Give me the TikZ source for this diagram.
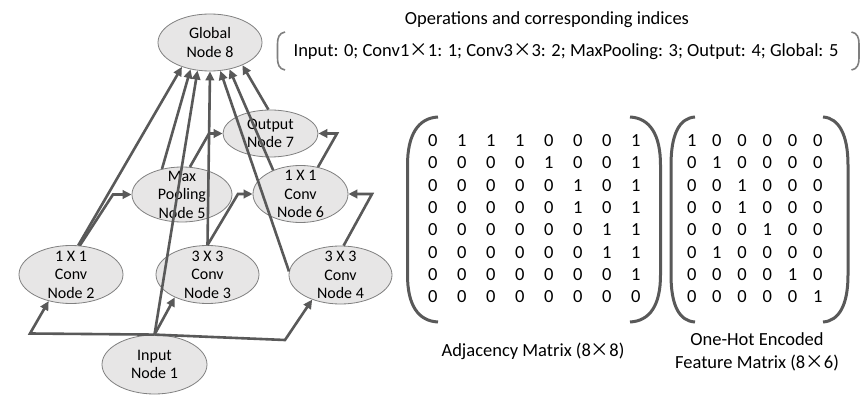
\documentclass[tikz,border=0pt]{standalone}
\usepackage{fontspec}
\setmainfont{Carlito}
\newfontfamily\cjkfont{Noto Sans CJK SC}
\usetikzlibrary{arrows.meta,shapes.geometric}
\definecolor{edgegray}{HTML}{595959}
\definecolor{nodefill}{HTML}{E7E6E6}
\definecolor{nodeline}{HTML}{808080}
\definecolor{brackgray}{HTML}{7F7F7F}
\newcommand{\tms}{{\cjkfont ×}}
\begin{document}
\begin{tikzpicture}[x=1pt,y=-1pt,
  opnode/.style={ellipse, draw=nodeline, line width=0.8pt, fill=nodefill, inner sep=0pt},
  ntext/.style={align=center, font=\fontsize{16}{18.5}\selectfont, inner sep=0pt},
  conn/.style={draw=edgegray, line width=2.6pt, -{Triangle[length=9pt,width=8.5pt]}},
  paren/.style={draw=edgegray, line width=3pt},
  brack/.style={draw=brackgray, line width=1.6pt},
  bigtext/.style={font=\fontsize{18.5}{22}\selectfont, inner sep=0pt},
  digit/.style={font=\fontsize{18.5}{22}\selectfont, inner sep=0pt}]
\useasboundingbox (0,0) rectangle (864,403);
\fill[white] (0,0) rectangle (864,403);

% ---------- graph nodes ----------
\node[opnode, minimum width=104pt, minimum height=57pt, label={[ntext]center:Global\\Node 8}] (n8) at (210,42.5) {};
\node[opnode, minimum width=95pt, minimum height=47pt, label={[ntext]center:Output\\Node 7}] (n7) at (270.5,133.5) {};
\node[opnode, minimum width=100pt, minimum height=55pt, label={[ntext]center:Max\\Pooling\\Node 5}] (n5) at (182,194.5) {};
\node[opnode, minimum width=95pt, minimum height=57pt, label={[ntext]center:1 X 1\\Conv\\Node 6}] (n6) at (300.5,194) {};
\node[opnode, minimum width=104pt, minimum height=58pt, label={[ntext]center:1 X 1\\Conv\\Node 2}] (n2) at (71,274.5) {};
\node[opnode, minimum width=103pt, minimum height=58pt, label={[ntext]center:3 X 3\\Conv\\Node 3}] (n3) at (207.5,274.5) {};
\node[opnode, minimum width=103pt, minimum height=58pt, label={[ntext]center:3 X 3\\Conv\\Node 4}] (n4) at (340.5,275) {};
\node[opnode, minimum width=105pt, minimum height=59pt, label={[ntext]center:Input\\Node 1}] (n1) at (154.5,364.5) {};

% ---------- bend points ----------
\coordinate (b12) at (30,333.5);
\coordinate (b14) at (285,340);
\coordinate (b25) at (113,194.5);
\coordinate (b36) at (238,194);
\coordinate (b46) at (372,194);
\coordinate (b57) at (209,133.5);
\coordinate (b67) at (337,133.5);

% ---------- connectors ----------
\draw[conn] (n1.north) -- (b12) -- (n2.230);
\draw[conn] (n1.north) -- (n3.215);
\draw[conn] (n1.north) -- (b14) -- (n4.221);
\draw[conn] (n1.north) -- (n8.246);
\draw[conn] (n2.76) -- (n8.221);
\draw[conn] (n2.73) -- (b25) -- (n5.west);
\draw[conn] (n3.north) -- (n8.south);
\draw[conn] (n3.north) -- (b36) -- (n6.west);
\draw[conn] (n4.176) -- (n8.290);
\draw[conn] (n4.84) -- (b46) -- (n6.east);
\draw[conn] (n5.74) -- (b57) -- (n7.west);
\draw[conn] (n5.128) -- (n8.234);
\draw[conn] (n6.57) -- (b67) -- (n7.east);
\draw[conn] (n6.139) -- (n8.306);
\draw[conn] (n7.95) -- (n8.325);

% ---------- operations legend ----------
\node[bigtext, anchor=base] (title) at (547,25) {Operations and corresponding indices};
\node[bigtext, anchor=base] (ops) at (566,56.7) {Input: 0; Conv1\tms1: 1; Conv3\tms3: 2; MaxPooling: 3; Output: 4; Global: 5};
\draw[brack] (285,32) .. controls (279,33) and (277.5,38) .. (277.5,44) -- (277.5,58) .. controls (277.5,64) and (279,69) .. (285,70);
\draw[brack] (851.5,32) .. controls (857.5,33) and (859,38) .. (859,44) -- (859,58) .. controls (859,64) and (857.5,69) .. (851.5,70);

% ---------- adjacency matrix ----------
\foreach \row [count=\r] in {{0,1,1,1,0,0,0,1},{0,0,0,0,1,0,0,1},{0,0,0,0,0,1,0,1},{0,0,0,0,0,1,0,1},{0,0,0,0,0,0,1,1},{0,0,0,0,0,0,1,1},{0,0,0,0,0,0,0,1},{0,0,0,0,0,0,0,0}}{
  \foreach \v [count=\c] in \row {
    \node[digit] (a-\r-\c) at ({432.7+29*(\c-1)},{140.7+22.3*(\r-1)}) {\v};
  }
}
\draw[paren] (438,117) .. controls (418,118) and (407.5,135) .. (407.5,165) -- (407.5,275) .. controls (407.5,305) and (418,321) .. (438,322);
\draw[paren] (630,117) .. controls (650,118) and (660.5,135) .. (660.5,165) -- (660.5,275) .. controls (660.5,305) and (650,321) .. (630,322);

% ---------- feature matrix ----------
\foreach \row [count=\r] in {{1,0,0,0,0,0},{0,1,0,0,0,0},{0,0,1,0,0,0},{0,0,1,0,0,0},{0,0,0,1,0,0},{0,1,0,0,0,0},{0,0,0,0,1,0},{0,0,0,0,0,1}}{
  \foreach \v [count=\c] in \row {
    \node[digit] (f-\r-\c) at ({691.7+25.2*(\c-1)},{140.7+22.3*(\r-1)}) {\v};
  }
}
\draw[paren] (695,117) .. controls (679,118) and (671,135) .. (671,165) -- (671,275) .. controls (671,305) and (679,321) .. (695,322);
\draw[paren] (823,117) .. controls (839,118) and (848,135) .. (848,165) -- (848,275) .. controls (848,305) and (839,321) .. (823,322);

% ---------- matrix captions ----------
\node[bigtext, anchor=base] (adjcap) at (533,356.7) {Adjacency Matrix (8\tms8)};
\node[bigtext, anchor=base] (featcap1) at (757,345) {One-Hot Encoded};
\node[bigtext, anchor=base] (featcap2) at (757,368.3) {Feature Matrix (8\tms6)};
\end{tikzpicture}
\end{document}
